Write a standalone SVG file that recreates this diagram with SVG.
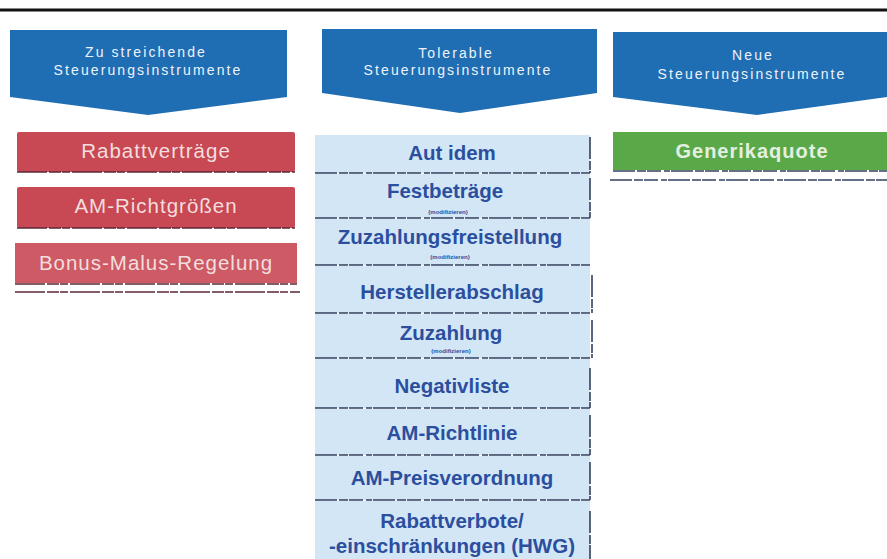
<svg xmlns="http://www.w3.org/2000/svg" width="887" height="559" viewBox="0 0 887 559">
<style>
.hdr{fill:#1f6db3}
.ht{fill:#eef3fa;font-family:"Liberation Sans",Arial,sans-serif;font-size:14px;letter-spacing:2.1px;text-anchor:middle}
.red{fill:#c84853}
.rt{fill:#f3dede;font-family:"Liberation Sans",Arial,sans-serif;font-size:20.5px;letter-spacing:1px;text-anchor:middle}
.blue{fill:#d3e6f6}
.bt{fill:#2b4f9e;font-family:"Liberation Sans",Arial,sans-serif;font-size:20.5px;font-weight:bold;text-anchor:middle}
.st{fill:#2b4f9e;font-family:"Liberation Sans",Arial,sans-serif;font-size:6px;font-weight:bold;text-anchor:middle}
.edge{stroke:#33405e;stroke-width:1.6;fill:none;stroke-dasharray:22 2 9 1 14 3 6 1}
.redge{stroke:#5a2a35;stroke-width:1.6;fill:none;stroke-dasharray:30 2 12 1 8 2}
.green{fill:#5aa948}
.gt{fill:#e4efe0;font-family:"Liberation Sans",Arial,sans-serif;font-size:20px;font-weight:bold;letter-spacing:1px;text-anchor:middle}
</style>
<rect width="887" height="559" fill="#ffffff"/>
<line x1="0" y1="10" x2="887" y2="10" stroke="#111" stroke-width="3"/>

<g id="header-streichen">
<polygon class="hdr" points="10,30 287,30 287,97 148,115 10,97"/>
<text class="ht" x="146" y="57">Zu streichende</text>
<text class="ht" x="148" y="75">Steuerungsinstrumente</text>
</g>
<g id="header-tolerable">
<polygon class="hdr" points="322,29 597,29 597,93 460,113 322,93"/>
<text class="ht" x="456" y="58">Tolerable</text>
<text class="ht" x="458" y="75">Steuerungsinstrumente</text>
</g>
<g id="header-neue">
<polygon class="hdr" points="613,32 887,32 887,97 757,115 613,97"/>
<text class="ht" x="753" y="60">Neue</text>
<text class="ht" x="752" y="79">Steuerungsinstrumente</text>
</g>

<g id="rabattvertraege">
<rect class="red" x="17" y="132" width="278" height="40" rx="2"/>
<line class="redge" x1="17" y1="172" x2="295" y2="172"/>
<text class="rt" x="156" y="158">Rabattverträge</text>
</g>
<g id="am-richtgroessen">
<rect class="red" x="17" y="187" width="278" height="41" rx="2"/>
<line class="redge" x1="17" y1="228" x2="295" y2="228"/>
<text class="rt" x="156" y="213">AM-Richtgrößen</text>
</g>
<g id="bonus-malus">
<rect class="red" x="15" y="243" width="282" height="40" fill-opacity="0.9"/>
<line class="redge" x1="15" y1="284" x2="297" y2="284"/>
<line class="redge" x1="15" y1="292" x2="300" y2="292" stroke-width="1.5"/>
<text class="rt" x="156" y="270">Bonus-Malus-Regelung</text>
</g>

<g id="aut-idem">
<rect class="blue" x="315" y="135" width="275" height="38"/>
<line class="edge" x1="315" y1="173" x2="590" y2="173"/>
<line class="edge" x1="590" y1="137" x2="590" y2="173"/>
<text class="bt" x="452" y="160">Aut idem</text>
</g>
<g id="festbetraege">
<rect class="blue" x="315" y="174" width="275" height="44"/>
<line class="edge" x1="315" y1="218" x2="590" y2="218"/>
<line class="edge" x1="590" y1="178" x2="590" y2="218"/>
<text class="bt" x="445" y="198">Festbeträge</text>
<text class="st" x="448" y="214">(modifizieren)</text>
</g>
<g id="zuzahlungsfreistellung">
<rect class="blue" x="315" y="219" width="275" height="46"/>
<line class="edge" x1="315" y1="265" x2="590" y2="265"/>
<text class="bt" x="450" y="244">Zuzahlungsfreistellung</text>
<text class="st" x="450" y="259">(modifizieren)</text>
</g>
<g id="herstellerabschlag">
<rect class="blue" x="315" y="266" width="275" height="47"/>
<line class="edge" x1="315" y1="313" x2="590" y2="313"/>
<line class="edge" x1="592" y1="275" x2="592" y2="313" stroke-width="1.5"/>
<text class="bt" x="452" y="299">Herstellerabschlag</text>
</g>
<g id="zuzahlung">
<rect class="blue" x="315" y="314" width="275" height="44"/>
<line class="edge" x1="315" y1="358" x2="590" y2="358"/>
<line class="edge" x1="592" y1="320" x2="592" y2="358" stroke-width="1.5"/>
<text class="bt" x="451" y="340">Zuzahlung</text>
<text class="st" x="451" y="353">(modifizieren)</text>
</g>
<g id="negativliste">
<rect class="blue" x="315" y="359" width="275" height="49"/>
<line class="edge" x1="315" y1="408" x2="590" y2="408"/>
<line class="edge" x1="590" y1="368" x2="590" y2="408"/>
<text class="bt" x="452" y="393">Negativliste</text>
</g>
<g id="am-richtlinie">
<rect class="blue" x="315" y="409" width="275" height="46"/>
<line class="edge" x1="315" y1="455" x2="590" y2="455"/>
<line class="edge" x1="590" y1="415" x2="590" y2="455"/>
<text class="bt" x="452" y="440">AM-Richtlinie</text>
</g>
<g id="am-preisverordnung">
<rect class="blue" x="315" y="456" width="275" height="44"/>
<line class="edge" x1="315" y1="500" x2="590" y2="500"/>
<line class="edge" x1="590" y1="462" x2="590" y2="500"/>
<text class="bt" x="452" y="485">AM-Preisverordnung</text>
</g>
<g id="rabattverbote">
<rect class="blue" x="315" y="501" width="275" height="58"/>
<line class="edge" x1="590" y1="511" x2="590" y2="559"/>
<text class="bt" x="452" y="528">Rabattverbote/</text>
<text class="bt" x="452" y="553">-einschränkungen (HWG)</text>
</g>

<g id="generikaquote">
<rect class="green" x="613" y="132" width="274" height="38"/>
<line class="edge" x1="613" y1="171" x2="887" y2="171"/>
<line class="edge" x1="610" y1="180" x2="887" y2="180" stroke-width="1.5"/>
<text class="gt" x="752" y="158">Generikaquote</text>
</g>
</svg>
